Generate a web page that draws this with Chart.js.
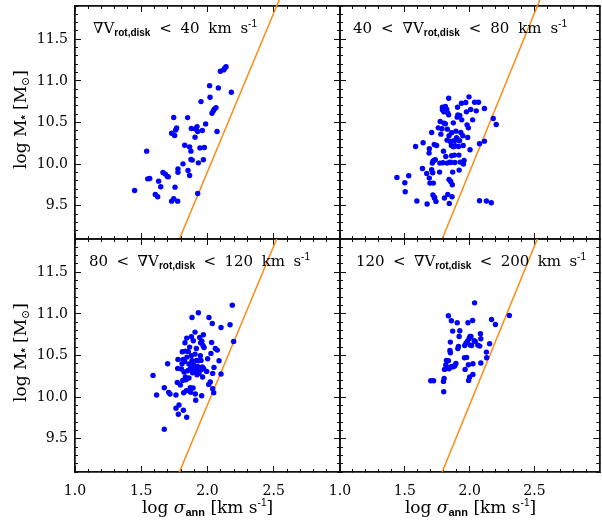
<!DOCTYPE html>
<html>
<head>
<meta charset="utf-8">
<script src="https://cdn.jsdelivr.net/npm/chart.js@4.4.0/dist/chart.umd.min.js"></script>
<style>
html, body { margin: 0; padding: 0; background: #fff; }
#wrap { position: relative; width: 602px; height: 525px; }
#wrap canvas { position: absolute; left: 0; top: 0; }
</style>
</head>
<body>
<div id="wrap">
<canvas id="c0" width="602" height="525"></canvas>
<canvas id="c1" width="602" height="525"></canvas>
<canvas id="c2" width="602" height="525"></canvas>
<canvas id="c3" width="602" height="525"></canvas>
</div>
<script>
// panel bins of the disk rotation gradient
var binLow = [null, 40, 80, 120];
var binHigh = [40, 80, 120, 200];

// axis ranges and tick labels
var xRange = [1.0, 3.0];
var yRange = [9.1, 11.9];
var xMajorTicks = [1.0, 1.5, 2.0, 2.5, 3.0];
var xTickLabels = ['1.0', '1.5', '2.0', '2.5', ''];
var yMajorTicks = [9.5, 10.0, 10.5, 11.0, 11.5];
var yTickLabels = ['9.5', '10.0', '10.5', '11.0', '11.5'];

// orange reference relation
var relSigma = [1.788, 2.543];
var relMass = [9.1, 11.98];

// log sigma_ann / log M* per panel
var sigma1 = [1.45,1.541,1.549,1.564,1.606,1.624,1.631,1.647,1.664,1.682,1.697,1.704,1.729,1.745,1.752,1.76,1.767,1.755,1.729,1.745,1.775,1.777,1.777,1.815,1.828,1.85,1.853,1.865,1.865,1.875,1.875,1.885,1.878,1.906,1.908,1.921,1.926,1.931,1.926,1.943,1.951,1.961,1.969,1.976,1.986,2.016,2.019,2.034,2.044,2.051,2.064,2.072,2.082,2.097,2.122,2.13,2.14,2.18];
var mass1 = [9.683,10.156,9.823,9.827,9.635,9.607,9.795,9.727,9.9,9.88,9.851,9.847,10.37,10.56,10.343,10.41,10.435,9.723,9.555,9.583,9.555,9.943,9.903,10.003,10.227,10.559,9.923,9.863,10.207,10.156,10.055,10.048,10.427,10.324,10.423,10.451,10.391,10.015,9.647,10.195,10.751,10.403,10.052,10.199,10.483,10.943,10.804,10.612,10.64,10.66,10.679,10.391,10.916,11.116,11.132,11.152,11.171,10.864];

var sigma2 = [1.439,1.5,1.503,1.53,1.583,1.593,1.641,1.636,1.672,1.669,1.687,1.689,1.707,1.707,1.715,1.717,1.712,1.727,1.725,1.689,1.694,1.72,1.717,1.73,1.74,1.745,1.735,1.758,1.768,1.77,1.773,1.778,1.786,1.79,1.79,1.793,1.798,1.801,1.803,1.806,1.813,1.813,1.816,1.823,1.826,1.826,1.828,1.831,1.831,1.838,1.838,1.841,1.841,1.843,1.846,1.851,1.854,1.856,1.859,1.861,1.861,1.864,1.866,1.869,1.874,1.874,1.879,1.882,1.886,1.889,1.894,1.899,1.904,1.904,1.907,1.909,1.912,1.914,1.917,1.919,1.922,1.924,1.927,1.932,1.937,1.939,1.947,1.95,1.952,1.957,1.97,1.975,1.98,1.985,1.99,1.995,2.003,2.008,2.023,2.038,2.051,2.068,2.076,2.076,2.114,2.114,2.129,2.167,2.182,2.205,1.728];
var mass2 = [9.84,9.776,9.668,9.86,10.212,9.556,10.256,9.948,9.52,9.888,10.132,10.184,10.38,9.932,9.896,10.036,10.012,10.236,10.044,9.832,9.772,9.772,9.628,9.6,9.552,10.224,10.052,10.436,9.904,10.012,10.512,10.36,10.424,10.652,10.684,10.016,10.156,10.628,10.492,9.592,10.484,10.692,10.092,10.66,10.288,10.012,10.42,10.616,9.636,10.792,10.592,10.34,9.816,9.528,10.024,10.272,9.792,10.02,10.224,10.1,10.376,9.608,9.752,9.904,10.208,10.496,10.28,10.108,10.02,10.22,10.396,10.316,10.3,10.564,10.684,10.592,10.288,10.212,10.108,9.928,10.28,10.584,10.024,10.38,10.732,10.532,10.34,10.224,10.0,10.044,10.74,10.628,10.472,10.32,10.436,10.808,10.172,10.656,10.532,10.744,10.64,10.744,10.244,9.56,10.668,10.276,9.556,9.536,10.548,10.476,9.592];

var sigma3 = [1.589,1.616,1.674,1.674,1.699,1.707,1.717,1.762,1.762,1.772,1.775,1.777,1.785,1.795,1.803,1.808,1.81,1.813,1.815,1.818,1.82,1.823,1.828,1.83,1.833,1.833,1.838,1.84,1.843,1.845,1.85,1.855,1.86,1.86,1.865,1.87,1.87,1.873,1.878,1.878,1.883,1.883,1.888,1.891,1.893,1.896,1.901,1.906,1.908,1.911,1.913,1.916,1.918,1.921,1.923,1.926,1.931,1.933,1.936,1.938,1.941,1.946,1.948,1.951,1.953,1.956,1.958,1.961,1.963,1.966,1.969,1.971,1.974,1.994,2.001,2.009,2.011,2.021,2.026,2.031,2.036,2.039,2.039,2.047,2.049,2.059,2.074,2.087,2.102,2.102,2.17,2.187,2.197,1.78,1.906,1.843];
var mass3 = [10.261,10.026,10.113,9.614,10.401,10.057,10.037,10.026,9.866,10.177,10.345,10.453,9.906,10.145,10.337,10.401,10.545,10.201,10.453,9.842,10.053,10.301,10.429,10.653,10.241,10.553,10.209,10.077,9.758,10.481,10.317,10.549,10.397,10.229,10.601,10.113,10.345,10.057,10.725,10.497,10.957,10.437,10.293,10.109,10.677,10.385,10.329,10.781,10.037,9.962,10.301,10.585,10.441,10.269,10.369,10.345,11.013,10.437,10.285,10.357,10.717,10.497,10.653,10.441,10.329,10.017,10.673,10.361,10.241,10.621,10.749,10.345,10.597,10.309,10.461,10.153,10.957,10.181,10.525,10.657,10.885,10.285,10.101,10.053,10.357,10.585,10.565,10.437,10.277,10.837,10.869,11.105,10.669,9.794,10.517,10.709];

var sigma4 = [1.7,1.722,1.8,1.798,1.803,1.806,1.816,1.821,1.836,1.841,1.848,1.851,1.851,1.854,1.869,1.874,1.886,1.894,1.909,1.914,1.919,1.924,1.904,1.859,1.836,1.96,1.965,1.962,1.972,1.977,1.982,1.987,1.99,1.992,1.995,2.0,2.003,2.005,2.01,2.015,2.023,2.025,2.025,2.035,2.038,2.043,2.063,2.078,2.083,2.086,2.086,2.129,2.131,2.154,2.169,2.199,2.306,1.826,1.866];
var mass4 = [10.197,10.197,10.065,10.189,10.225,10.333,10.385,10.441,10.437,10.341,10.561,10.533,10.661,10.361,10.793,10.365,10.377,10.405,10.585,10.609,10.729,10.797,10.893,10.917,10.977,10.473,10.333,10.621,10.649,10.477,10.669,10.893,10.389,10.201,10.701,10.241,10.729,10.625,10.729,10.621,10.921,10.401,10.273,10.677,11.133,10.669,10.625,10.613,10.761,10.409,10.701,10.541,10.473,10.641,10.933,10.873,10.981,10.353,10.369];

var sigmaSets = [sigma1, sigma2, sigma3, sigma4];
var massSets = [mass1, mass2, mass3, mass4];

// where each frame sits on the page, and where its label runs
var panels = [
  {left: 75, right: 340, top: 6, bottom: 239, showX: false, showY: true, textX: [93, 257], clipTop: 6},
  {left: 340, right: 601, top: 6, bottom: 239, showX: false, showY: false, textX: [353, 567], clipTop: 6},
  {left: 75, right: 340, top: 239, bottom: 472, showX: true, showY: true, textX: [89, 310], clipTop: 0},
  {left: 340, right: 601, top: 239, bottom: 472, showX: true, showY: false, textX: [356, 586], clipTop: 0}
];
var LABEL_BOX = 40;

var SERIF = 'DejaVu Serif';
var SANS = 'Liberation Sans';

function pts(xs, ys) {
  return xs.map(function(v, i) { return {x: v, y: ys[i]}; });
}

function fitTo(size) {
  return function(s) {
    if (s.isHorizontal()) s.height = size; else s.width = size;
    s.paddingTop = s.paddingBottom = s.paddingLeft = s.paddingRight = 0;
  };
}

function axis(pos, range, major, labels, show) {
  var horiz = pos === 'top' || pos === 'bottom';
  var o = {
    type: 'linear', position: pos, min: range[0], max: range[1],
    weight: show ? 10 : 0,
    border: {display: true, color: '#111', width: 1.5},
    grid: {display: true, drawOnChartArea: false, drawTicks: true,
      tickLength: major ? -6 : -3, color: '#111', lineWidth: 1},
    ticks: {display: !!show, color: '#000', includeBounds: false, autoSkip: false,
      maxRotation: 0, font: {family: SERIF, size: 14},
      padding: horiz ? 17 : 13},
    afterFit: fitTo(show ? LABEL_BOX : 0)
  };
  if (major) {
    var vals = horiz ? xMajorTicks : yMajorTicks;
    o.afterBuildTicks = function(s) { s.ticks = vals.map(function(v) { return {value: v}; }); };
    o.ticks.callback = function(v, i) { return labels[i]; };
  } else {
    o.ticks.stepSize = 0.1;
  }
  return o;
}

// draw words spread across [x0, x1]; each word is a list of [text, font, dy]
function drawSpread(ctx, words, x0, x1, y) {
  var widths = words.map(function(w) {
    return w.reduce(function(a, p) { ctx.font = p[1]; return a + ctx.measureText(p[0]).width; }, 0);
  });
  var total = widths.reduce(function(a, b) { return a + b; }, 0);
  var gap = words.length > 1 ? (x1 - x0 - total) / (words.length - 1) : 0;
  var cx = x0;
  words.forEach(function(w, i) {
    var px = cx;
    w.forEach(function(p) {
      ctx.font = p[1];
      ctx.fillText(p[0], px, y + (p[2] || 0));
      px += ctx.measureText(p[0]).width;
    });
    cx += widths[i] + gap;
  });
}

function drawRich(ctx, parts, x, y) {
  var w = parts.reduce(function(a, p) { ctx.font = p[1]; return a + ctx.measureText(p[0]).width; }, 0);
  var cx = x - w / 2;
  parts.forEach(function(p) {
    ctx.font = p[1];
    ctx.fillText(p[0], cx, y + (p[2] || 0));
    cx += ctx.measureText(p[0]).width;
  });
}

var fMain = '15px ' + SERIF;
var fSub = 'bold 10px ' + SANS;
var fSup = '10px ' + SANS;
var fTitle = '17px ' + SERIF;

var labelPlugin = {
  id: 'panelText',
  afterDraw: function(chart) {
    var k = chart.options.plugins.panelText.index;
    var P = panels[k];
    var ctx = chart.ctx;
    ctx.save();
    ctx.fillStyle = '#000';
    ctx.textBaseline = 'alphabetic';
    ctx.textAlign = 'left';

    var grad = [['\u2207V', fMain], ['rot,disk', fSub, 3]];
    var words = [];
    if (binLow[k] !== null) { words.push([[String(binLow[k]), fMain]]); words.push([['<', fMain]]); }
    words.push(grad);
    words.push([['<', fMain]]);
    words.push([[String(binHigh[k]), fMain]]);
    words.push([['km', fMain]]);
    words.push([['s', fMain], ['-1', fSup, -6]]);
    drawSpread(ctx, words, P.textX[0], P.textX[1], P.top + 27);

    if (P.showX) {
      drawRich(ctx, [['log ', fTitle], ['\u03c3', 'italic ' + fTitle],
        ['ann', 'bold 11px ' + SANS, 3], [' [km s', fTitle],
        ['-1', fSup, -7], [']', fTitle]], (P.left + P.right) / 2, 513);
    }
    if (P.showY) {
      ctx.translate(26, (P.top + P.bottom) / 2 - 3);
      ctx.rotate(-Math.PI / 2);
      drawRich(ctx, [['log M', fTitle], ['*', 'bold 11px ' + SANS, 3],
        [' [M', fTitle], ['\u2299', '11px ' + SERIF, 3], [']', fTitle]], 0, 0);
    }
    ctx.restore();
  }
};

panels.forEach(function(P, k) {
  var padL = P.showY ? P.left - LABEL_BOX : P.left;
  var padB = P.showX ? 525 - P.bottom - LABEL_BOX : 525 - P.bottom;
  new Chart(document.getElementById('c' + k), {
    type: 'scatter',
    data: {
      datasets: [
        {
          data: pts(sigmaSets[k], massSets[k]),
          backgroundColor: '#0000ff', borderWidth: 0,
          pointRadius: 2.7, pointHoverRadius: 2.7,
          xAxisID: 'x', yAxisID: 'y'
        },
        {
          data: pts(relSigma, relMass),
          showLine: true, borderColor: '#ff8a14', borderWidth: 1.5,
          pointRadius: 0, pointHoverRadius: 0,
          clip: {left: 0, right: 0, bottom: 0, top: P.clipTop},
          xAxisID: 'x', yAxisID: 'y'
        }
      ]
    },
    options: {
      responsive: false, animation: false, devicePixelRatio: 1, events: [],
      layout: {padding: {left: padL, right: 602 - P.right, top: P.top, bottom: padB}},
      plugins: {legend: {display: false}, tooltip: {enabled: false}, panelText: {index: k}},
      scales: {
        x: axis('bottom', xRange, true, xTickLabels, P.showX),
        xMinor: axis('bottom', xRange, false),
        xTop: axis('top', xRange, true, xTickLabels, false),
        xTopMinor: axis('top', xRange, false),
        y: axis('left', yRange, true, yTickLabels, P.showY),
        yMinor: axis('left', yRange, false),
        yRight: axis('right', yRange, true, yTickLabels, false),
        yRightMinor: axis('right', yRange, false)
      }
    },
    plugins: [labelPlugin]
  });
});
</script>
</body>
</html>
